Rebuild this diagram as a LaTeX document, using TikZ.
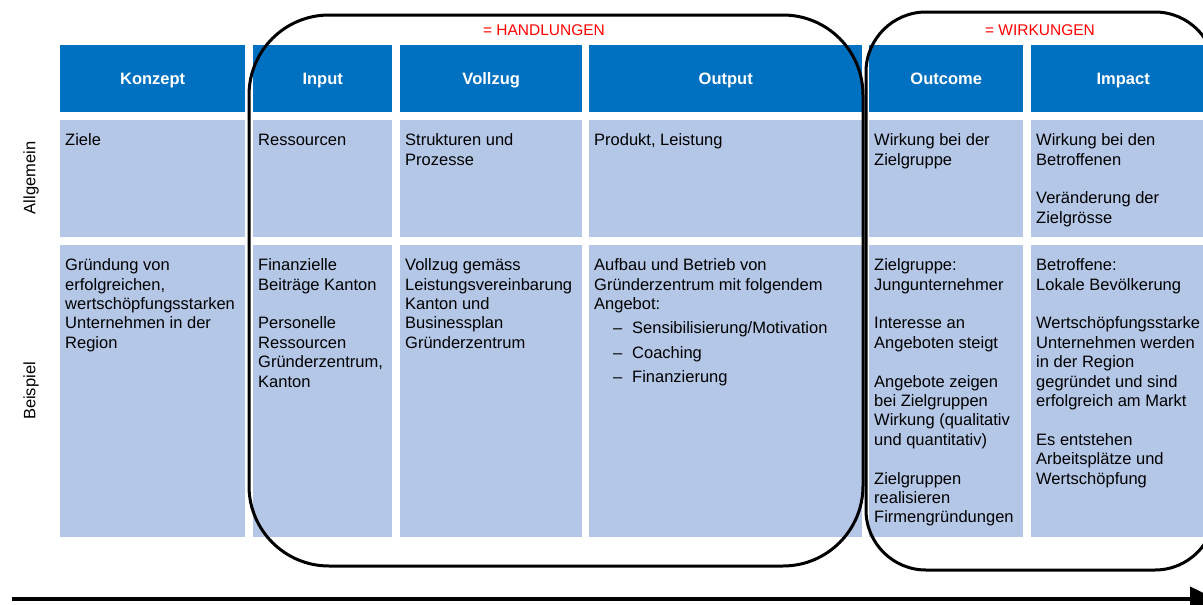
\documentclass[tikz,border=0pt]{standalone}
\usepackage{fontspec}
\setmainfont{Liberation Sans}
\usetikzlibrary{arrows.meta,positioning}
\definecolor{headblue}{RGB}{0,112,192}
\definecolor{cellblue}{RGB}{180,199,231}
\begin{document}
\begin{tikzpicture}
    [   x=1pt,y=-1pt,
        txt/.style={font=\fontsize{16.5}{19.4}\selectfont},
        hcell/.style={fill=headblue,text=white,font=\fontsize{16.5}{19.4}\selectfont\bfseries,text height=12pt,text depth=0pt,minimum height=67pt,inner sep=0pt,anchor=north west},
        bcell/.style={fill=cellblue,inner sep=0pt,anchor=north west},
        ctext/.style={txt,align=left,anchor=north west,inner sep=0pt},
        roundbox/.style={draw=black,line width=3pt,rounded corners=#1},
        tag/.style={text=red,font=\fontsize{15.5}{18}\selectfont},
    ]
    \useasboundingbox (0,0) rectangle (1203,605);
    \foreach \n/\l/\r/\ttl in {1/60/245/Konzept,2/253/392/Input,3/400/582/Vollzug,4/589/862/Output,5/869/1023/Outcome,6/1031/1215/Impact}
    {   \node[hcell,minimum width={(\r-\l)*1pt}] (h-\n) at (\l,45) {\ttl};
        \node[bcell,minimum width={(\r-\l)*1pt},minimum height=117pt] (a-\n) at (\l,120) {};
        \node[bcell,minimum width={(\r-\l)*1pt},minimum height=292pt] (b-\n) at (\l,245) {};
    }
    \node[ctext,below right=12pt and 5pt of a-1.north west] (ta-1) {\strut Ziele};
    \node[ctext,below right=12pt and 5pt of a-2.north west] (ta-2) {\strut Ressourcen};
    \node[ctext,below right=12pt and 5pt of a-3.north west] (ta-3) {\strut Strukturen und\\Prozesse};
    \node[ctext,below right=12pt and 5pt of a-4.north west] (ta-4) {\strut Produkt, Leistung};
    \node[ctext,below right=12pt and 5pt of a-5.north west] (ta-5) {\strut Wirkung bei der\\Zielgruppe};
    \node[ctext,below right=12pt and 5pt of a-6.north west] (ta-6) {\strut Wirkung bei den\\Betroffenen\\[19.4pt]Veränderung der\\Zielgrösse};
    \node[ctext,below right=12pt and 5pt of b-1.north west] (tb-1) {\strut Gründung von\\erfolgreichen,\\wertschöpfungsstarken\\Unternehmen in der\\Region};
    \node[ctext,below right=12pt and 5pt of b-2.north west] (tb-2) {\strut Finanzielle\\Beiträge Kanton\\[19.4pt]Personelle\\Ressourcen\\Gründerzentrum,\\Kanton};
    \node[ctext,below right=12pt and 5pt of b-3.north west] (tb-3) {\strut Vollzug gemäss\\Leistungsvereinbarung\\Kanton und\\Businessplan\\Gründerzentrum};
    \node[ctext,below right=12pt and 5pt of b-4.north west] (tb-4) {\strut Aufbau und Betrieb von\\Gründerzentrum mit folgendem\\Angebot:\\[5pt]%
        \hspace*{19pt}\makebox[19pt][l]{--}Sensibilisierung/Motivation\\[5pt]%
        \hspace*{19pt}\makebox[19pt][l]{--}Coaching\\[5pt]%
        \hspace*{19pt}\makebox[19pt][l]{--}Finanzierung};
    \node[ctext,below right=12pt and 5pt of b-5.north west] (tb-5) {\strut Zielgruppe:\\Jungunternehmer\\[19.4pt]Interesse an\\Angeboten steigt\\[19.4pt]Angebote zeigen\\bei Zielgruppen\\Wirkung (qualitativ\\und quantitativ)\\[19.4pt]Zielgruppen\\realisieren\\Firmengründungen};
    \node[ctext,below right=12pt and 5pt of b-6.north west] (tb-6) {\strut Betroffene:\\Lokale Bevölkerung\\[19.4pt]Wertschöpfungsstarke\\Unternehmen werden\\in der Region\\gegründet und sind\\erfolgreich am Markt\\[19.4pt]Es entstehen\\Arbeitsplätze und\\Wertschöpfung};
    \node[txt,rotate=90] (r-a) at (31,178) {Allgemein};
    \node[txt,rotate=90] (r-b) at (31,391) {Beispiel};
    \node[tag] (l-h) at (544,30) {= HANDLUNGEN};
    \node[tag] (l-w) at (1040,30) {= WIRKUNGEN};
    \draw[roundbox=80pt] (249,15) rectangle (863,566);
    \draw[roundbox=60pt] (866,12) rectangle (1215,570);
    \coordinate (s) at (12,599);
    \coordinate (e) at (1216,599);
    \draw[line width=4pt,-{Triangle[length=26pt,width=24pt]}] (s) -- (e);
\end{tikzpicture}
\end{document}
